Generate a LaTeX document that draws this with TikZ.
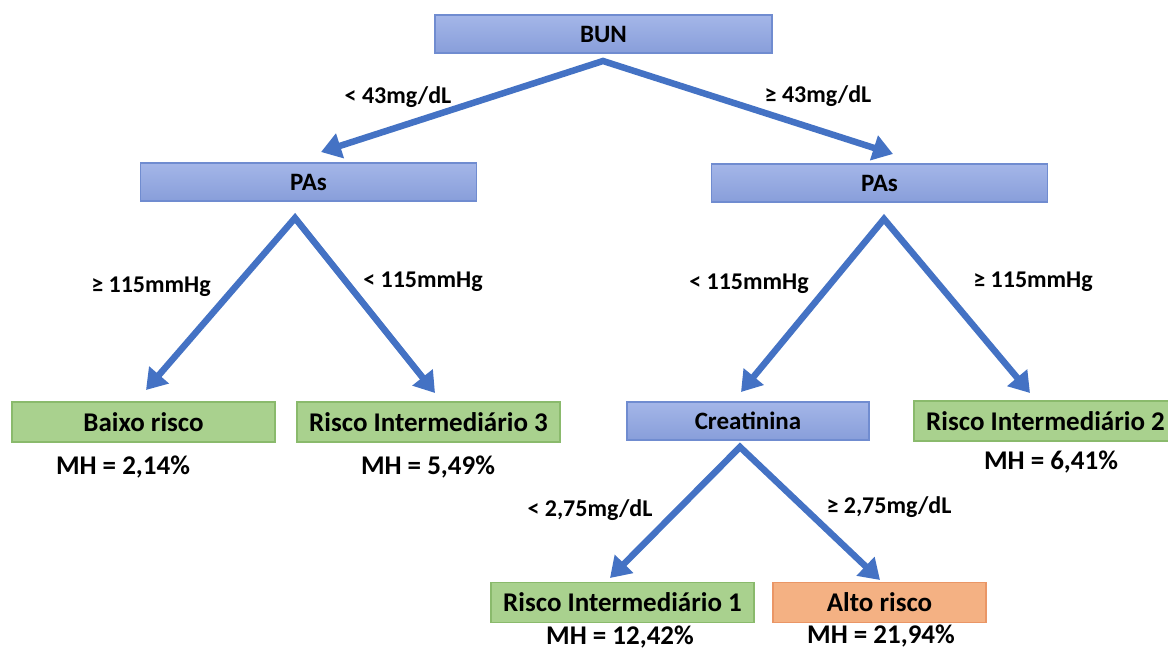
\documentclass[tikz,border=0pt]{standalone}
\usepackage{fontspec}
\setmainfont{Carlito}
\usetikzlibrary{arrows.meta}
\definecolor{bluetop}{RGB}{164,182,232}
\definecolor{bluebot}{RGB}{136,158,218}
\definecolor{blueline}{RGB}{112,140,208}
\definecolor{greenfill}{RGB}{169,209,142}
\definecolor{greenline}{RGB}{138,186,108}
\definecolor{orangefill}{RGB}{244,177,131}
\definecolor{orangeline}{RGB}{234,150,102}
\definecolor{arrowblue}{RGB}{68,114,196}
\begin{document}
\begin{tikzpicture}[x=1pt,y=-1pt,
  innerbox/.style={draw=blueline, top color=bluetop, bottom color=bluebot, line width=1.2pt, inner sep=0pt,
    font=\fontsize{25}{29}\selectfont\bfseries},
  leafbox/.style={draw=greenline, fill=greenfill, line width=1.2pt, inner sep=0pt,
    minimum width=263pt, minimum height=40pt, font=\fontsize{27}{32}\selectfont\bfseries},
  hotbox/.style={leafbox, draw=orangeline, fill=orangefill},
  branch/.style={draw=arrowblue, line width=6.5pt, line join=miter,
    {Triangle[length=20pt,width=25pt]}-{Triangle[length=20pt,width=25pt]}},
  cond/.style={font=\fontsize{24}{28}\selectfont\bfseries, inner sep=0pt},
  mh/.style={font=\fontsize{27}{31}\selectfont\bfseries, inner sep=0pt, anchor=base}
]
\useasboundingbox (0,0) rectangle (1168,650);
\fill[white] (0,0) rectangle (1168,650);

% decision nodes
\node[innerbox, minimum width=337pt, minimum height=38pt] (bun) at (603.5,34) {BUN};
\node[innerbox, minimum width=336pt, minimum height=38pt] (pasL) at (308.5,182) {PAs};
\node[innerbox, minimum width=336pt, minimum height=38pt] (pasR) at (879.5,183) {PAs};
\node[innerbox, minimum width=242pt, minimum height=38pt] (creat) at (748,421) {Creatinina};

% leaves
\node[leafbox] (baixo) at (143.5,422) {Baixo risco};
\node[leafbox] (ri3) at (428.5,422) {Risco Intermediário 3};
\node[leafbox] (ri2) at (1045.5,421) {Risco Intermediário 2};
\node[leafbox] (ri1) at (622.5,602.5) {Risco Intermediário 1};
\node[hotbox, minimum width=213pt] (alto) at (879.5,602.5) {Alto risco};

% MH values
\node[mh] (mhBaixo) at (123,474) {MH = 2,14\%};
\node[mh] (mhRi3) at (428,474) {MH = 5,49\%};
\node[mh] (mhRi2) at (1051,469) {MH = 6,41\%};
\node[mh] (mhRi1) at (620,644) {MH = 12,42\%};
\node[mh] (mhAlto) at (881,643) {MH = 21,94\%};

% branch points
\coordinate (bunA) at (603,61);
\coordinate (bunL) at (321,152);
\coordinate (bunR) at (893,154);
\coordinate (pasLA) at (295,218);
\coordinate (pasLL) at (146,390);
\coordinate (pasLR) at (435,393);
\coordinate (pasRA) at (884,219);
\coordinate (pasRL) at (741,392);
\coordinate (pasRR) at (1030,393);
\coordinate (creatA) at (740,447);
\coordinate (creatL) at (610,578);
\coordinate (creatR) at (880,580);

\draw[branch] (bunL) -- (bunA) -- (bunR);
\draw[branch] (pasLL) -- (pasLA) -- (pasLR);
\draw[branch] (pasRL) -- (pasRA) -- (pasRR);
\draw[branch] (creatL) -- (creatA) -- (creatR);

% conditions
\node[cond] (c1) at (398,97) {< 43mg/dL};
\node[cond] (c2) at (818,96) {≥ 43mg/dL};
\node[cond] (c3) at (151,287) {≥ 115mmHg};
\node[cond] (c4) at (423,282) {< 115mmHg};
\node[cond] (c5) at (749,284) {< 115mmHg};
\node[cond] (c6) at (1033,282) {≥ 115mmHg};
\node[cond] (c7) at (590,510) {< 2,75mg/dL};
\node[cond] (c8) at (889,507) {≥ 2,75mg/dL};
\end{tikzpicture}
\end{document}
